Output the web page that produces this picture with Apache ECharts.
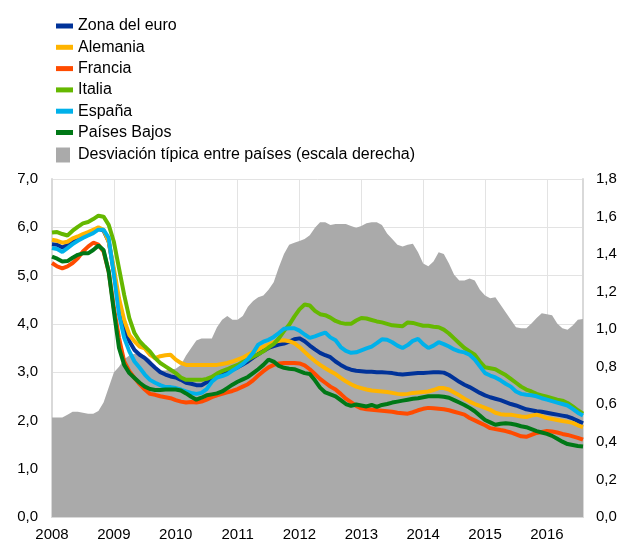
<!DOCTYPE html>
<html>
<head>
<meta charset="utf-8">
<script src="https://cdn.jsdelivr.net/npm/echarts@6/dist/echarts.min.js"></script>
<style>
  html, body { margin: 0; padding: 0; background: #fff; }
  #chart { width: 624px; height: 542px; }
</style>
</head>
<body>
<div id="chart"></div>
<script>
// años del eje x (datos mensuales, ene 2008 - ago 2016)
const years = ['2008', '2009', '2010', '2011', '2012', '2013', '2014', '2015', '2016'];
const nMonths = 104;
const months = [];
for (let i = 0; i < nMonths; i++) {
  months.push(years[Math.floor(i / 12)] + '-' + String(i % 12 + 1).padStart(2, '0'));
}

const zonaEuro = [
  5.65,5.64,5.58,5.64,5.70,5.75,5.81,5.86,5.91,5.97,5.93,5.70,5.08,4.40,3.91,3.64,3.46,3.36,3.29,3.19,3.09,3.00,2.95,2.91,2.89,2.84,2.78,2.76,
  2.73,2.73,2.79,2.84,2.90,2.95,3.00,3.05,3.10,3.16,3.22,3.30,3.37,3.44,3.50,3.54,3.57,3.59,3.63,3.68,3.70,3.64,3.55,3.47,3.40,3.35,3.31,
  3.22,3.15,3.09,3.05,3.03,3.02,3.01,3.01,3.00,3.00,2.99,2.98,2.96,2.95,2.96,2.97,2.98,2.98,2.99,3.00,3.00,2.99,2.94,2.87,2.80,
  2.74,2.69,2.63,2.57,2.52,2.48,2.45,2.42,2.38,2.34,2.31,2.27,2.23,2.21,2.19,2.18,2.16,2.14,2.12,2.10,2.08,2.04,1.99,1.94
];
const alemania = [
  5.74,5.72,5.68,5.70,5.77,5.81,5.86,5.90,5.95,6.00,5.95,5.70,5.15,4.53,4.08,3.77,3.64,3.53,3.49,3.36,3.29,3.33,3.35,3.36,3.26,3.19,3.15,3.15,
  3.15,3.15,3.15,3.15,3.15,3.17,3.19,3.22,3.26,3.30,3.36,3.42,3.47,3.53,3.57,3.62,3.65,3.66,3.64,3.60,3.52,3.42,3.32,3.23,3.15,3.08,3.02,
  2.96,2.88,2.81,2.75,2.70,2.67,2.64,2.62,2.61,2.60,2.59,2.57,2.55,2.54,2.55,2.57,2.58,2.59,2.60,2.63,2.67,2.67,2.64,2.58,2.52,
  2.45,2.39,2.34,2.30,2.26,2.22,2.16,2.13,2.12,2.12,2.10,2.08,2.07,2.10,2.12,2.09,2.05,2.03,2.01,1.99,1.97,1.95,1.90,1.86
];
const francia = [
  5.26,5.19,5.15,5.19,5.26,5.36,5.50,5.60,5.68,5.64,5.50,5.08,4.33,3.71,3.22,3.02,2.88,2.75,2.64,2.55,2.53,2.50,2.48,2.46,2.42,2.39,2.37,2.38,
  2.37,2.39,2.43,2.48,2.52,2.55,2.58,2.61,2.65,2.70,2.75,2.83,2.93,3.02,3.10,3.15,3.18,3.19,3.19,3.19,3.18,3.14,3.06,2.96,2.86,2.78,2.70,
  2.64,2.55,2.45,2.38,2.30,2.25,2.23,2.22,2.21,2.20,2.19,2.18,2.16,2.15,2.14,2.17,2.21,2.24,2.26,2.25,2.24,2.23,2.21,2.18,2.15,
  2.12,2.05,2.00,1.95,1.90,1.84,1.82,1.80,1.78,1.75,1.71,1.67,1.66,1.70,1.74,1.76,1.78,1.77,1.75,1.72,1.70,1.67,1.64,1.60
];
const italia = [
  5.89,5.90,5.86,5.83,5.93,6.01,6.08,6.11,6.17,6.24,6.22,6.05,5.70,5.15,4.60,4.12,3.81,3.64,3.53,3.43,3.29,3.19,3.12,3.05,2.98,2.89,2.84,2.84,
  2.84,2.84,2.86,2.90,2.97,3.02,3.06,3.11,3.15,3.21,3.26,3.32,3.37,3.43,3.51,3.58,3.70,3.85,3.98,4.15,4.30,4.40,4.38,4.27,4.20,4.18,4.13,
  4.06,4.02,4.00,4.00,4.07,4.12,4.11,4.08,4.05,4.03,4.00,3.97,3.96,3.95,4.03,4.02,3.99,3.96,3.96,3.94,3.93,3.88,3.80,3.70,3.60,
  3.50,3.43,3.36,3.22,3.10,3.08,3.06,3.00,2.94,2.86,2.78,2.70,2.64,2.60,2.55,2.52,2.49,2.46,2.43,2.41,2.36,2.29,2.21,2.14
];
const espana = [
  5.57,5.55,5.49,5.57,5.65,5.72,5.78,5.83,5.88,5.95,5.95,5.78,5.02,4.19,3.71,3.43,3.22,3.09,2.95,2.84,2.78,2.73,2.69,2.69,2.67,2.64,2.60,2.57,
  2.55,2.57,2.65,2.80,2.89,2.92,2.96,3.03,3.10,3.17,3.27,3.40,3.57,3.63,3.67,3.73,3.81,3.90,3.91,3.91,3.86,3.78,3.71,3.74,3.78,3.82,3.72,
  3.66,3.52,3.44,3.40,3.41,3.45,3.49,3.53,3.60,3.68,3.67,3.62,3.55,3.50,3.56,3.65,3.69,3.58,3.50,3.55,3.62,3.58,3.53,3.47,3.43,
  3.41,3.36,3.26,3.12,2.98,2.93,2.89,2.83,2.76,2.70,2.60,2.55,2.53,2.52,2.50,2.46,2.43,2.40,2.37,2.34,2.31,2.24,2.16,2.10
];
const paisesBajos = [
  5.39,5.35,5.29,5.30,5.37,5.43,5.46,5.46,5.53,5.62,5.53,5.08,4.26,3.50,3.15,2.98,2.88,2.78,2.70,2.65,2.63,2.63,2.64,2.64,2.64,2.62,2.56,2.49,
  2.43,2.47,2.52,2.54,2.56,2.60,2.67,2.74,2.80,2.85,2.90,2.98,3.06,3.15,3.26,3.22,3.13,3.09,3.07,3.06,3.02,2.98,2.96,2.83,2.68,2.58,2.54,
  2.50,2.42,2.34,2.30,2.33,2.31,2.29,2.32,2.28,2.32,2.34,2.37,2.39,2.41,2.43,2.45,2.46,2.48,2.50,2.50,2.50,2.49,2.47,2.42,2.37,
  2.32,2.26,2.19,2.10,2.01,1.96,1.91,1.93,1.94,1.93,1.91,1.88,1.86,1.82,1.78,1.75,1.72,1.68,1.62,1.56,1.51,1.49,1.47,1.46
];
// desviación típica entre países (escala derecha)
const desviacion = [
  0.53,0.53,0.53,0.545,0.56,0.56,0.555,0.55,0.55,0.565,0.61,0.69,0.77,0.80,0.84,0.86,0.87,0.87,0.86,0.84,0.80,0.78,0.78,0.785,0.79,0.81,0.86,0.90,
  0.94,0.95,0.95,0.95,1.01,1.05,1.07,1.05,1.05,1.07,1.12,1.15,1.17,1.18,1.21,1.25,1.33,1.40,1.45,1.46,1.47,1.48,1.50,1.54,1.57,1.57,1.555,
  1.56,1.56,1.56,1.55,1.54,1.55,1.565,1.57,1.57,1.555,1.51,1.48,1.45,1.44,1.45,1.455,1.41,1.35,1.335,1.36,1.41,1.40,1.35,1.29,1.26,
  1.26,1.27,1.26,1.21,1.18,1.165,1.17,1.13,1.09,1.05,1.01,1.005,1.005,1.03,1.06,1.085,1.08,1.075,1.03,1.005,0.997,1.02,1.05,1.055
];

const leftTicks = [0, 1, 2, 3, 4, 5, 6, 7];
const rightTicks = [0, 0.2, 0.4, 0.6, 0.8, 1.0, 1.2, 1.4, 1.6, 1.8];

const lineNames = ['Zona del euro', 'Alemania', 'Francia', 'Italia', 'España', 'Países Bajos'];
const lineData = [zonaEuro, alemania, francia, italia, espana, paisesBajos];
const lineColors = ['#003299', '#ffb400', '#ff4b00', '#65b800', '#00b1ea', '#007816'];
const areaName = 'Desviación típica entre países (escala derecha)';

const font = 'Liberation Sans, Arial, sans-serif';
const comma = (v) => v.toFixed(1).replace('.', ',');

const chart = echarts.init(document.getElementById('chart'));

const series = [
  {
    name: areaName,
    type: 'line',
    yAxisIndex: 1,
    data: desviacion,
    symbol: 'none',
    lineStyle: { width: 0 },
    areaStyle: { color: '#aaaaaa', opacity: 1 },
    itemStyle: { color: '#aaaaaa' },
    z: 1,
  },
];
lineNames.forEach((name, k) => {
  series.push({
    name: name,
    type: 'line',
    data: lineData[k],
    symbol: 'none',
    smooth: false,
    lineStyle: { color: lineColors[k], width: 4 },
    itemStyle: { color: lineColors[k] },
    z: 2 + k,
  });
});

chart.setOption({
  animation: false,
  textStyle: { fontFamily: font },
  legend: [
    {
      data: lineNames,
      orient: 'vertical',
      left: 51,
      top: 13,
      itemWidth: 17,
      itemHeight: 5,
      itemGap: 5.3,
      icon: 'rect',
      textStyle: { color: '#000', fontSize: 16, fontFamily: font, lineHeight: 16 },
    },
    {
      data: [areaName],
      orient: 'vertical',
      left: 51,
      top: 142,
      itemWidth: 14,
      itemHeight: 15,
      icon: 'rect',
      textStyle: { color: '#000', fontSize: 16, fontFamily: font, lineHeight: 16, padding: [0, 0, 0, 3] },
    },
  ],
  grid: { left: 52, right: 41, top: 179, bottom: 24.5, containLabel: false },
  xAxis: {
    type: 'category',
    data: months,
    boundaryGap: false,
    axisLine: { lineStyle: { color: '#d9d9d9', width: 2 } },
    axisTick: { show: false },
    axisLabel: {
      color: '#000',
      fontSize: 15,
      margin: 10,
      interval: (idx) => idx % 12 === 0,
      formatter: (val) => val.slice(0, 4),
    },
    splitLine: {
      show: true,
      interval: (idx) => idx % 12 === 0,
      lineStyle: { color: '#e3e3e3', width: 1 },
    },
  },
  yAxis: [
    {
      type: 'value',
      min: leftTicks[0],
      max: leftTicks[leftTicks.length - 1],
      interval: 1,
      axisLine: { show: true, lineStyle: { color: '#d9d9d9', width: 2 } },
      axisTick: { show: false },
      axisLabel: { color: '#000', fontSize: 15, margin: 14, formatter: comma },
      splitLine: { lineStyle: { color: '#e3e3e3', width: 1 } },
    },
    {
      type: 'value',
      min: rightTicks[0],
      max: rightTicks[rightTicks.length - 1],
      interval: 0.2,
      position: 'right',
      axisLine: { show: true, lineStyle: { color: '#d9d9d9', width: 2 } },
      axisTick: { show: false },
      axisLabel: { color: '#000', fontSize: 15, margin: 13, formatter: comma },
      splitLine: { show: false },
    },
  ],
  series: series,
});
</script>
</body>
</html>
